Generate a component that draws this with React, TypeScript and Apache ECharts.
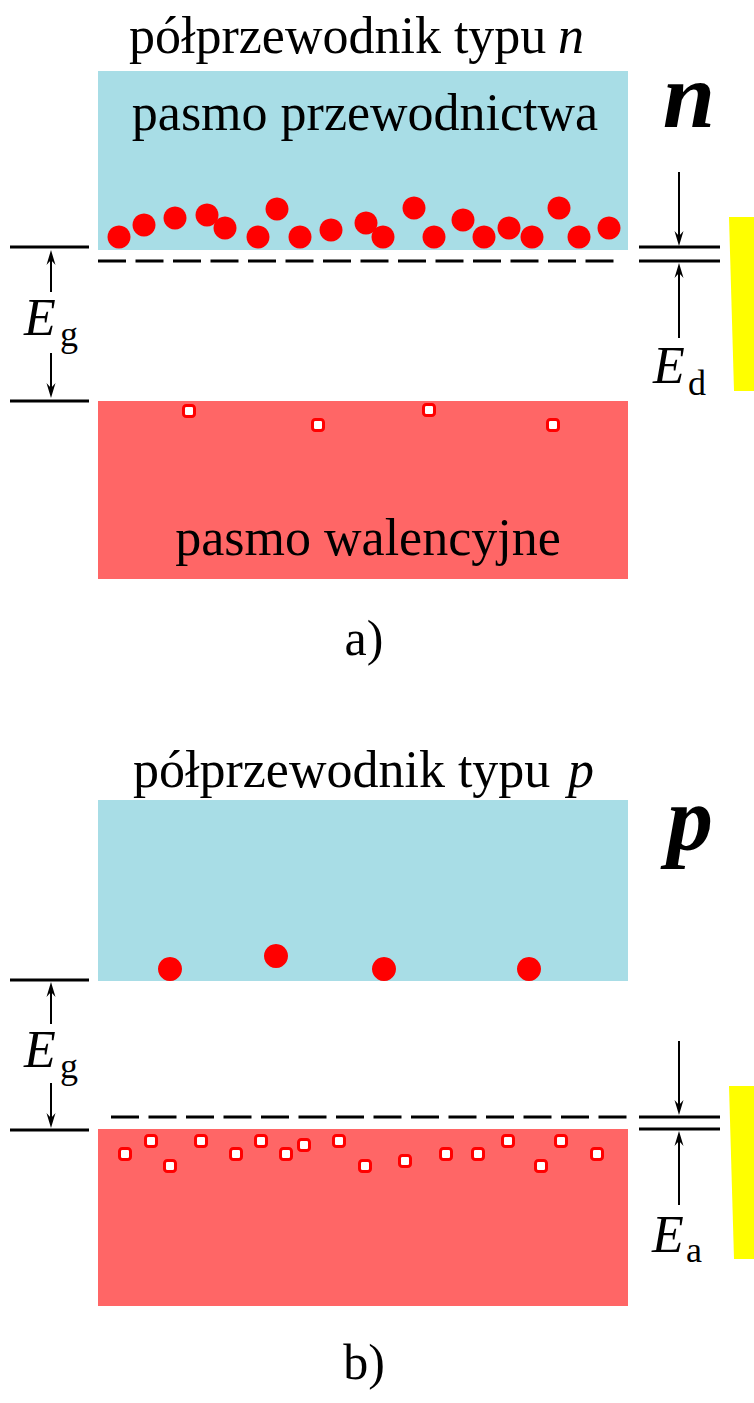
import React, { useEffect, useRef } from 'react';
import * as echarts from 'echarts';

const W = 754;
const H = 1403;

// Energy bands: [x0, x1, top, bottom] in diagram units
const conductionBandA = [98, 628, 71, 250];
const valenceBandA = [98, 628, 401, 579];
const conductionBandB = [98, 628, 800, 981];
const valenceBandB = [98, 628, 1129, 1306];

// Electrons (filled dots) and holes (open markers): [x, energy]
const electronsA = [
  [119, 237], [144, 225], [175, 218], [207, 215], [225, 228], [258, 237], [277, 209],
  [300, 237], [331, 230], [366, 223], [383, 237], [414, 208], [434, 237], [463, 220],
  [484, 237], [509, 228], [532, 237], [559, 208], [579, 237], [609, 228],
];
const holesA = [[189, 411], [318, 425], [429, 410], [553, 425]];
const electronsB = [[170, 969], [276, 956], [384, 969], [529, 969]];
const holesB = [
  [125, 1154], [151, 1141], [170, 1166], [201, 1141], [236, 1154], [261, 1141],
  [286, 1154], [304, 1145], [339, 1141], [365, 1166], [405, 1161], [446, 1154],
  [478, 1154], [508, 1141], [541, 1166], [561, 1141], [597, 1154],
];

// Dashed impurity levels: [x0, x1, level]
const donorLevel = [98, 620, 261];
const acceptorLevel = [111, 628, 1117];

// Solid level ticks: [x0, x1, level]
const levelTicks = [
  [10, 89, 247], [10, 89, 401], [639, 720, 247], [639, 720, 261],
  [10, 89, 980], [10, 89, 1130], [639, 720, 1117], [639, 720, 1129],
];

// Arrows: [x, from, to]
const arrows = [
  [51, 292, 250], [51, 353, 398], [679, 172, 246], [679, 338, 263],
  [51, 1024, 982], [51, 1083, 1128], [679, 1041, 1115], [679, 1205, 1131],
];

// Yellow highlight bars: [xLeftTop, xLeftBottom, xRight, top, bottom]
const highlights = [
  [729, 734, 754, 217, 391],
  [729, 734, 754, 1086, 1259],
];

const SERIF = 'Liberation Serif';

function txt(text: string, x: number, baseline: number, fs: number, opts: any = {}) {
  return {
    type: 'text',
    z: 100,
    x,
    y: baseline - 0.3375 * fs,
    style: {
      text,
      fill: '#000',
      fontFamily: SERIF,
      fontSize: fs,
      fontStyle: opts.style || 'normal',
      fontWeight: opts.weight || 'normal',
      align: opts.align || 'left',
      verticalAlign: 'middle',
    },
  };
}

export default function App() {
  const ref = useRef<HTMLDivElement>(null);

  useEffect(() => {
    if (!ref.current) return;
    const chart = echarts.init(ref.current, null, { renderer: 'svg' });

    const bandSeries = (data: number[][], color: string) => ({
      type: 'custom',
      silent: true,
      z: 1,
      data,
      renderItem: (_p: any, api: any) => {
        const a = api.coord([api.value(0), api.value(2)]);
        const b = api.coord([api.value(1), api.value(3)]);
        return {
          type: 'rect',
          shape: { x: a[0], y: a[1], width: b[0] - a[0], height: b[1] - a[1] },
          style: { fill: color },
        };
      },
    });

    const option: any = {
      animation: false,
      backgroundColor: '#ffffff',
      grid: { left: 0, right: 0, top: 0, bottom: 0 },
      xAxis: { type: 'value', min: 0, max: W, show: false },
      yAxis: { type: 'value', min: 0, max: H, inverse: true, show: false },
      series: [
        bandSeries([conductionBandA, conductionBandB], '#a8dde6'),
        bandSeries([valenceBandA, valenceBandB], '#ff6666'),
        {
          type: 'custom',
          silent: true,
          z: 2,
          data: [donorLevel, acceptorLevel],
          renderItem: (_p: any, api: any) => {
            const a = api.coord([api.value(0), api.value(2)]);
            const b = api.coord([api.value(1), api.value(2)]);
            return {
              type: 'line',
              shape: { x1: a[0], y1: a[1], x2: b[0], y2: b[1] },
              style: { stroke: '#000', lineWidth: 3, lineDash: [28, 9.5] },
            };
          },
        },
        {
          type: 'custom',
          silent: true,
          z: 2,
          data: levelTicks,
          renderItem: (_p: any, api: any) => {
            const a = api.coord([api.value(0), api.value(2)]);
            const b = api.coord([api.value(1), api.value(2)]);
            return {
              type: 'line',
              shape: { x1: a[0], y1: a[1], x2: b[0], y2: b[1] },
              style: { stroke: '#000', lineWidth: 3 },
            };
          },
        },
        {
          type: 'custom',
          silent: true,
          z: 2,
          data: arrows,
          renderItem: (_p: any, api: any) => {
            const p0 = api.coord([api.value(0), api.value(1)]);
            const p1 = api.coord([api.value(0), api.value(2)]);
            const dir = Math.sign(p1[1] - p0[1]);
            const hl = 15;
            const hw = 4.5;
            return {
              type: 'group',
              children: [
                {
                  type: 'line',
                  shape: { x1: p0[0], y1: p0[1], x2: p1[0], y2: p1[1] - dir * 8 },
                  style: { stroke: '#000', lineWidth: 2 },
                },
                {
                  type: 'polygon',
                  shape: {
                    points: [
                      [p1[0], p1[1]],
                      [p1[0] - hw, p1[1] - dir * hl],
                      [p1[0], p1[1] - dir * 10],
                      [p1[0] + hw, p1[1] - dir * hl],
                    ],
                  },
                  style: { fill: '#000' },
                },
              ],
            };
          },
        },
        {
          type: 'custom',
          silent: true,
          z: 2,
          data: highlights,
          renderItem: (_p: any, api: any) => {
            const tl = api.coord([api.value(0), api.value(3)]);
            const bl = api.coord([api.value(1), api.value(4)]);
            const tr = api.coord([api.value(2), api.value(3)]);
            const br = api.coord([api.value(2), api.value(4)]);
            return {
              type: 'polygon',
              shape: { points: [tl, tr, br, bl] },
              style: { fill: '#ffff00' },
            };
          },
        },
        {
          type: 'scatter',
          silent: true,
          z: 5,
          symbol: 'circle',
          symbolSize: 23,
          itemStyle: { color: '#ff0000', opacity: 1 },
          data: electronsA,
        },
        {
          type: 'scatter',
          silent: true,
          z: 5,
          symbol: 'circle',
          symbolSize: 24,
          itemStyle: { color: '#ff0000', opacity: 1 },
          data: electronsB,
        },
        {
          type: 'scatter',
          silent: true,
          z: 5,
          symbol: 'roundRect',
          symbolSize: 11,
          itemStyle: { color: '#ffffff', borderColor: '#ff0000', borderWidth: 3, opacity: 1 },
          data: [...holesA, ...holesB],
        },
      ],
      graphic: [
        txt('półprzewodnik typu', 129, 53, 52),
        txt('n', 584, 53, 52, { style: 'italic', align: 'right' }),
        txt('pasmo przewodnictwa', 365, 130, 52, { align: 'center' }),
        txt('n', 689, 127, 94, { style: 'italic', weight: 'bold', align: 'center' }),
        txt('E', 24, 335, 52, { style: 'italic' }),
        txt('g', 60, 346, 36),
        txt('E', 653, 383, 52, { style: 'italic' }),
        txt('d', 688, 395, 36),
        txt('pasmo walencyjne', 368, 555, 52, { align: 'center' }),
        txt('a)', 364, 655, 50, { align: 'center' }),
        txt('półprzewodnik typu', 133, 787, 52),
        txt('p', 594, 787, 52, { style: 'italic', align: 'right' }),
        txt('p', 690, 850, 92, { style: 'italic', weight: 'bold', align: 'center' }),
        txt('E', 24, 1067, 52, { style: 'italic' }),
        txt('g', 60, 1078, 36),
        txt('E', 652, 1252, 52, { style: 'italic' }),
        txt('a', 686, 1262, 36),
        txt('b)', 364, 1379, 50, { align: 'center' }),
      ],
    };

    chart.setOption(option);
    return () => chart.dispose();
  }, []);

  return (
    <div
      ref={ref}
      style={{ position: 'fixed', left: 0, top: 0, width: W, height: H, background: '#fff' }}
    />
  );
}
